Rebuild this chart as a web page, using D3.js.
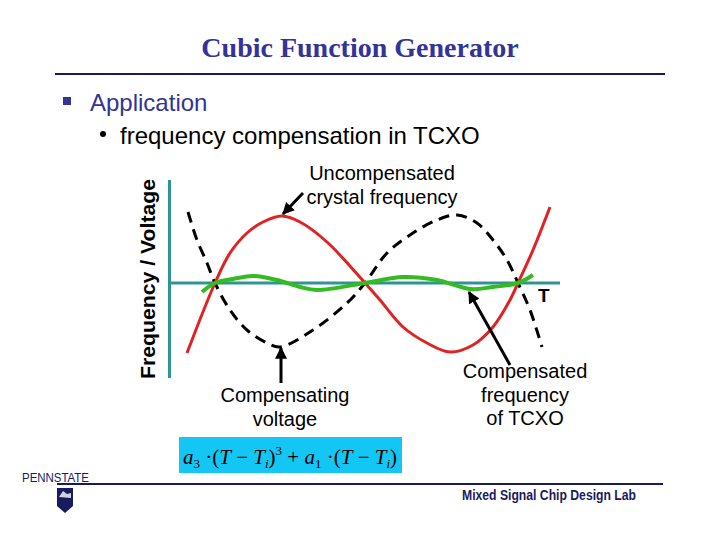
<!DOCTYPE html>
<html><head><meta charset="utf-8">
<script src="https://cdn.jsdelivr.net/npm/d3@7"></script>
<style>body{margin:0;background:#fff}svg{display:block}</style>
</head><body>
<script>
// ---- data (T in arbitrary units, value in arbitrary units)
const titleText = "Cubic Function Generator";
const bullet1 = "Application";
const bullet2 = "frequency compensation in TCXO";
const yLabel = "Frequency / Voltage";
const xLabel = "T";

// Uncompensated crystal frequency (red)
const redT   = [22, 50, 65, 82, 98, 117, 135, 162, 200, 215, 238, 262, 285, 308, 328, 345, 353, 368, 385];
const redV   = [-70, 0, 30, 50, 61, 67, 61, 41, 0, -17, -44, -60, -69, -62, -44, -17, 0, 33, 76];

// Compensating voltage (black dashed)
const blackT = [23, 32, 42, 50, 65, 82, 102, 115, 148, 182, 200, 222, 248, 272, 292, 312, 328, 342, 353, 365, 377];
const blackV = [71, 43, 20, 0, -27, -47, -60, -64, -47, -20, 0, 30, 50, 63, 68, 60, 43, 23, 0, -27, -64];

// Compensated frequency of TCXO (green)
const greenT = [37, 50, 68, 88, 112, 135, 152, 200, 238, 272, 305, 328, 353, 368];
const greenV = [-9, 0, 4, 7, 3, -4, -7, 0, 6, 3, -6, -4, 0, 8];

const labelUncomp = ["Uncompensated", "crystal frequency"];
const labelCompV  = ["Compensating", "voltage"];
const labelCompF  = ["Compensated", "frequency", "of TCXO"];
const footerText  = "Mixed Signal Chip Design Lab";

// annotation arrows: [fromT, fromV, toT, toV]
const arrows = [
  [138, 90, 118, 69],
  [116, -100, 116, -65],
  [345, -82, 304, -9]
];

const W = 720, H = 540;
const svg = d3.select("body").append("svg").attr("width", W).attr("height", H);
const navy = "#333399";

const x = d3.scaleLinear().domain([0, 400]).range([165, 565]);
const y = d3.scaleLinear().domain([-100, 100]).range([383, 183]);

// Title
svg.append("text").attr("x", 360).attr("y", 57).attr("text-anchor", "middle")
  .attr("font-family", "Liberation Serif, Times New Roman, serif").attr("font-weight", "bold")
  .attr("font-size", 28).attr("fill", navy).text(titleText);
svg.append("line").attr("x1", 55).attr("x2", 665).attr("y1", 74).attr("y2", 74)
  .attr("stroke", "#1a1a5e").attr("stroke-width", 2);

// bullets
svg.append("rect").attr("x", 63).attr("y", 97).attr("width", 8).attr("height", 8).attr("fill", navy);
svg.append("text").attr("x", 90).attr("y", 111).attr("font-family", "Liberation Sans, Arial, sans-serif")
  .attr("font-size", 24).attr("fill", navy).text(bullet1);
svg.append("circle").attr("cx", 103).attr("cy", 134).attr("r", 3).attr("fill", "#000");
svg.append("text").attr("x", 120).attr("y", 144).attr("font-family", "Liberation Sans, Arial, sans-serif")
  .attr("font-size", 24).attr("fill", "#000").text(bullet2);

// axes (no ticks)
const teal = "#2E9494";
svg.append("line").attr("x1", x(4.5)).attr("x2", x(4.5)).attr("y1", y(103)).attr("y2", y(-95))
  .attr("stroke", teal).attr("stroke-width", 3);
svg.append("line").attr("x1", x(4.5)).attr("x2", x(395)).attr("y1", y(0)).attr("y2", y(0))
  .attr("stroke", teal).attr("stroke-width", 3);

// axis labels
svg.append("text").attr("transform", `translate(155,279) rotate(-90)`)
  .attr("text-anchor", "middle").attr("font-family", "Liberation Sans, Arial, sans-serif")
  .attr("font-weight", "bold").attr("font-size", 21).attr("fill", "#000")
  .attr("textLength", 200).attr("lengthAdjust", "spacingAndGlyphs").text(yLabel);
svg.append("text").attr("x", x(373)).attr("y", y(-19)).attr("font-family", "Liberation Sans, Arial, sans-serif")
  .attr("font-weight", "bold").attr("font-size", 19).attr("fill", "#000").text(xLabel);

const line = d3.line().x(d => x(d[0])).y(d => y(d[1])).curve(d3.curveCatmullRom.alpha(0.5));

svg.append("path").datum(d3.zip(blackT, blackV)).attr("d", line)
  .attr("fill", "none").attr("stroke", "#000").attr("stroke-width", 3).attr("stroke-dasharray", "11,7");
svg.append("path").datum(d3.zip(redT, redV)).attr("d", line)
  .attr("fill", "none").attr("stroke", "#E02222").attr("stroke-width", 3);
svg.append("path").datum(d3.zip(greenT, greenV)).attr("d", line)
  .attr("fill", "none").attr("stroke", "#33BB22").attr("stroke-width", 4);

// arrows
svg.append("defs").append("marker").attr("id", "ah").attr("viewBox", "0 0 10 10")
  .attr("refX", 9).attr("refY", 5).attr("markerWidth", 4).attr("markerHeight", 4)
  .attr("markerUnits", "strokeWidth").attr("orient", "auto")
  .append("path").attr("d", "M0,0L10,5L0,10Z").attr("fill", "#000");
svg.selectAll("line.arrow").data(arrows).enter().append("line").attr("class", "arrow")
  .attr("x1", d => x(d[0])).attr("y1", d => y(d[1])).attr("x2", d => x(d[2])).attr("y2", d => y(d[3]))
  .attr("stroke", "#000").attr("stroke-width", 3).attr("marker-end", "url(#ah)");

// annotation labels
function multi(lines, cx, y0) {
  const t = svg.append("text").attr("text-anchor", "middle")
    .attr("font-family", "Liberation Sans, Arial, sans-serif").attr("font-size", 20).attr("fill", "#000");
  lines.forEach((s, i) => t.append("tspan").attr("x", cx).attr("y", y0 + i * 23.5).text(s));
}
multi(labelUncomp, 382, 180);
multi(labelCompV, 285, 402);
multi(labelCompF, 525, 378);

// formula box
svg.append("rect").attr("x", 179).attr("y", 437).attr("width", 223).attr("height", 36).attr("fill", "#13C6F4");
const f = svg.append("text").attr("x", 183).attr("y", 464)
  .attr("font-family", "Liberation Serif, Times New Roman, serif").attr("font-size", 21).attr("fill", "#000");
const sub = 13;
f.append("tspan").attr("font-style", "italic").text("a");
f.append("tspan").attr("font-size", sub).attr("dy", 4).text("3");
f.append("tspan").attr("dy", -4).text(" \u00B7(");
f.append("tspan").attr("font-style", "italic").text("T");
f.append("tspan").text(" \u2212 ");
f.append("tspan").attr("font-style", "italic").text("T");
f.append("tspan").attr("font-style", "italic").attr("font-size", sub).attr("dy", 4).text("i");
f.append("tspan").attr("dy", -4).text(")");
f.append("tspan").attr("font-size", sub).attr("dy", -9).text("3");
f.append("tspan").attr("dy", 9).text(" + ");
f.append("tspan").attr("font-style", "italic").text("a");
f.append("tspan").attr("font-size", sub).attr("dy", 4).text("1");
f.append("tspan").attr("dy", -4).text(" \u00B7(");
f.append("tspan").attr("font-style", "italic").text("T");
f.append("tspan").text(" \u2212 ");
f.append("tspan").attr("font-style", "italic").text("T");
f.append("tspan").attr("font-style", "italic").attr("font-size", sub).attr("dy", 4).text("i");
f.append("tspan").attr("dy", -4).text(")");

// footer
svg.append("line").attr("x1", 57).attr("x2", 663).attr("y1", 484).attr("y2", 484)
  .attr("stroke", "#1a1a5e").attr("stroke-width", 2);
svg.append("text").attr("x", 22).attr("y", 482).attr("font-family", "Liberation Sans Narrow, Liberation Sans, Arial, sans-serif")
  .attr("font-size", 13).attr("fill", "#1a1a5e").attr("textLength", 67).attr("lengthAdjust", "spacingAndGlyphs").text("PENNSTATE");
svg.append("path").attr("d", "M57,488 L73,488 L73,506 L65,513 L57,506 Z").attr("fill", "#1a1a5e");
svg.append("path").attr("d", "M59,497 L63,491 L67,494 L71,493 L71,498 Z").attr("fill", "#fff").attr("opacity", 0.8);
svg.append("text").attr("x", 462).attr("y", 500).attr("font-family", "Liberation Sans Narrow, Liberation Sans, Arial, sans-serif")
  .attr("font-weight", "bold").attr("font-size", 14).attr("fill", "#1a1a5e")
  .attr("textLength", 174).attr("lengthAdjust", "spacingAndGlyphs").text(footerText);
</script>
</body></html>
